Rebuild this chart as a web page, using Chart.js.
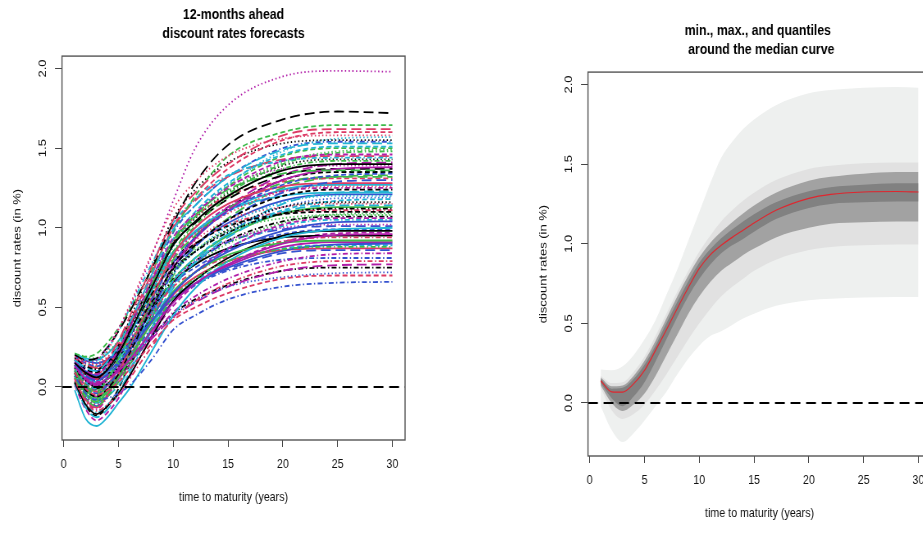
<!DOCTYPE html>
<html>
<head>
<meta charset="utf-8">
<script src="https://cdn.jsdelivr.net/npm/chart.js@4.4.1/dist/chart.umd.min.js"></script>
<style>
  html, body { margin: 0; padding: 0; background: #fff; overflow: hidden; }
  #wrap { position: relative; width: 923px; height: 535px; overflow: hidden; background: #fff; }
  /* the source picture is squeezed sideways, so draw wide and squeeze the canvas */
  #fcChart { position: absolute; left: 0; top: 0; width: 460px; height: 535px; }
  #bandChart { position: absolute; left: 526px; top: 16px; width: 460px; height: 535px; }
</style>
</head>
<body>
<div id="wrap">
  <canvas id="fcChart" width="561" height="535" style="width:460px;height:535px"></canvas>
  <canvas id="bandChart" width="561" height="535" style="width:460px;height:535px"></canvas>
</div>
<script>
/* axes */
const xRange = [-0.16, 31.16];
const yRange = [-0.333, 2.078];
const xTicks = [0, 5, 10, 15, 20, 25, 30];
const yTicks = [0, 0.5, 1, 1.5, 2];

/* left panel: forecast curves, one row per curve, read at these maturities */
const maturities = [1, 2, 3, 4, 5, 6, 8, 10, 12, 15, 20, 25, 30];
const forecasts = [
  [0.15, 0.09, 0.06, 0.11, 0.21, 0.34, 0.62, 0.89, 1.04, 1.20, 1.36, 1.40, 1.40],
  [0.09, -0.01, -0.05, -0.02, 0.03, 0.11, 0.27, 0.42, 0.50, 0.59, 0.68, 0.70, 0.70],
  [0.11, 0.02, -0.02, 0.05, 0.15, 0.27, 0.51, 0.73, 0.86, 0.98, 1.06, 1.08, 1.08],
  [0.07, -0.04, -0.08, -0.07, -0.04, 0.01, 0.17, 0.36, 0.45, 0.55, 0.63, 0.655, 0.66],
  [0.17, 0.12, 0.10, 0.16, 0.26, 0.40, 0.70, 0.99, 1.14, 1.32, 1.49, 1.53, 1.53],
  [0.13, 0.05, 0.02, 0.05, 0.10, 0.17, 0.35, 0.53, 0.65, 0.77, 0.90, 0.955, 0.96],
  [0.09, -0.02, -0.06, -0.01, 0.08, 0.21, 0.49, 0.75, 0.89, 1.05, 1.20, 1.24, 1.24],
  [0.19, 0.16, 0.14, 0.23, 0.36, 0.51, 0.83, 1.12, 1.29, 1.45, 1.56, 1.58, 1.58],
  [0.06, -0.07, -0.12, -0.06, 0.03, 0.14, 0.36, 0.56, 0.68, 0.79, 0.865, 0.88, 0.88],
  [0.14, 0.07, 0.04, 0.08, 0.14, 0.24, 0.48, 0.72, 0.88, 1.05, 1.22, 1.29, 1.30],
  [-0.02, -0.20, -0.245, -0.19, -0.10, -0.01, 0.22, 0.45, 0.62, 0.79, 0.94, 0.99, 1.00],
  [0.16, 0.10, 0.08, 0.14, 0.23, 0.37, 0.66, 0.94, 1.09, 1.25, 1.42, 1.46, 1.46],
  [0.12, 0.04, 0.00, 0.05, 0.13, 0.24, 0.49, 0.72, 0.85, 0.99, 1.13, 1.16, 1.16],
  [0.04, -0.09, -0.15, -0.11, -0.05, 0.05, 0.25, 0.43, 0.54, 0.65, 0.76, 0.79, 0.79],
  [0.10, 0.01, -0.03, 0.05, 0.18, 0.33, 0.64, 0.92, 1.08, 1.24, 1.34, 1.36, 1.36],
  [0.16, 0.10, 0.07, 0.10, 0.15, 0.23, 0.41, 0.59, 0.72, 0.85, 0.98, 1.035, 1.04],
  [0.12, 0.03, -0.01, 0.05, 0.16, 0.31, 0.63, 0.93, 1.10, 1.28, 1.46, 1.51, 1.51],
  [0.19, 0.155, 0.17, 0.25, 0.37, 0.50, 0.82, 1.17, 1.50, 1.77, 1.95, 1.985, 1.98],
  [0.18, 0.13, 0.11, 0.15, 0.22, 0.32, 0.53, 0.74, 0.85, 0.97, 1.09, 1.12, 1.12],
  [0.18, 0.14, 0.12, 0.18, 0.29, 0.44, 0.75, 1.05, 1.22, 1.40, 1.58, 1.62, 1.62],
  [0.07, -0.04, -0.09, -0.03, 0.06, 0.17, 0.40, 0.60, 0.72, 0.83, 0.905, 0.92, 0.92],
  [0.19, 0.15, 0.13, 0.17, 0.23, 0.32, 0.55, 0.78, 0.94, 1.10, 1.27, 1.33, 1.34],
  [0.08, -0.03, -0.08, -0.03, 0.06, 0.19, 0.46, 0.71, 0.85, 1.01, 1.16, 1.20, 1.20],
  [0.14, 0.06, 0.03, 0.05, 0.10, 0.16, 0.31, 0.47, 0.57, 0.68, 0.79, 0.835, 0.84],
  [0.20, 0.17, 0.18, 0.25, 0.35, 0.47, 0.74, 1.03, 1.28, 1.52, 1.68, 1.73, 1.72],
  [0.05, -0.08, -0.13, -0.05, 0.08, 0.24, 0.55, 0.83, 1.00, 1.15, 1.26, 1.28, 1.28],
  [0.21, 0.19, 0.21, 0.28, 0.37, 0.48, 0.73, 0.98, 1.20, 1.45, 1.60, 1.645, 1.645],
  [0.10, 0.00, -0.02, 0.02, 0.08, 0.16, 0.32, 0.45, 0.54, 0.63, 0.69, 0.715, 0.72],
  [0.20, 0.17, 0.16, 0.24, 0.35, 0.49, 0.77, 1.03, 1.18, 1.33, 1.42, 1.44, 1.44],
  [0.15, 0.08, 0.05, 0.07, 0.11, 0.17, 0.30, 0.44, 0.53, 0.63, 0.73, 0.765, 0.77],
  [0.03, -0.11, -0.17, -0.12, -0.04, 0.07, 0.31, 0.54, 0.67, 0.81, 0.95, 0.98, 0.98],
  [0.15, 0.08, 0.05, 0.11, 0.22, 0.38, 0.70, 1.01, 1.18, 1.37, 1.55, 1.60, 1.60],
  [0.21, 0.19, 0.18, 0.22, 0.29, 0.39, 0.64, 0.89, 1.06, 1.23, 1.41, 1.48, 1.49],
  [0.10, 0.00, -0.04, 0.01, 0.09, 0.18, 0.37, 0.54, 0.64, 0.73, 0.80, 0.81, 0.81],
  [0.02, -0.13, -0.19, -0.14, -0.04, 0.09, 0.37, 0.64, 0.78, 0.94, 1.10, 1.14, 1.14],
  [0.13, 0.04, 0.01, 0.05, 0.12, 0.23, 0.49, 0.75, 0.93, 1.11, 1.30, 1.37, 1.38],
  [0.17, 0.11, 0.09, 0.15, 0.24, 0.35, 0.58, 0.78, 0.90, 1.01, 1.085, 1.10, 1.10],
  [0.19, 0.16, 0.14, 0.19, 0.26, 0.38, 0.61, 0.83, 0.96, 1.09, 1.23, 1.26, 1.26],
  [0.07, -0.05, -0.10, -0.04, 0.07, 0.22, 0.54, 0.84, 1.01, 1.19, 1.37, 1.42, 1.42],
  [0.16, 0.10, 0.07, 0.10, 0.16, 0.24, 0.40, 0.56, 0.65, 0.74, 0.84, 0.86, 0.86],
  [0.14, 0.06, 0.03, 0.10, 0.21, 0.34, 0.60, 0.84, 0.98, 1.11, 1.20, 1.22, 1.22],
  [0.01, -0.14, -0.21, -0.16, -0.07, 0.06, 0.32, 0.58, 0.72, 0.87, 1.02, 1.06, 1.06],
  [0.13, 0.05, 0.02, 0.11, 0.25, 0.42, 0.75, 1.06, 1.24, 1.41, 1.53, 1.55, 1.55],
  [0.18, 0.14, 0.12, 0.15, 0.21, 0.29, 0.46, 0.63, 0.72, 0.82, 0.915, 0.94, 0.94],
  [0.09, -0.01, -0.05, 0.01, 0.10, 0.24, 0.53, 0.80, 0.95, 1.12, 1.28, 1.32, 1.32],
  [0.20, 0.165, 0.15, 0.17, 0.21, 0.27, 0.41, 0.56, 0.65, 0.75, 0.855, 0.895, 0.90],
  [0.15, 0.09, 0.06, 0.09, 0.15, 0.24, 0.45, 0.67, 0.81, 0.96, 1.11, 1.17, 1.18],
  [0.06, -0.06, -0.11, -0.04, 0.06, 0.18, 0.43, 0.66, 0.79, 0.92, 1.00, 1.02, 1.02],
  [0.11, 0.03, -0.01, 0.02, 0.07, 0.15, 0.31, 0.46, 0.55, 0.64, 0.73, 0.75, 0.75],
  [0.14, 0.06, 0.03, 0.12, 0.24, 0.40, 0.71, 1.00, 1.17, 1.32, 1.43, 1.45, 1.45],
  [0.08, -0.02, -0.07, -0.02, 0.06, 0.18, 0.43, 0.67, 0.81, 0.95, 1.09, 1.13, 1.13],
  [0.17, 0.12, 0.10, 0.14, 0.20, 0.29, 0.47, 0.65, 0.75, 0.86, 0.96, 0.99, 0.99],
  [0.16, 0.10, 0.07, 0.12, 0.19, 0.31, 0.60, 0.88, 1.08, 1.27, 1.48, 1.56, 1.57],
  [0.05, -0.08, -0.14, -0.06, 0.07, 0.22, 0.53, 0.81, 0.97, 1.13, 1.23, 1.25, 1.25],
  [0.18, 0.14, 0.12, 0.17, 0.26, 0.38, 0.65, 0.90, 1.03, 1.18, 1.33, 1.37, 1.37],
  [0.10, 0.01, -0.03, 0.02, 0.11, 0.20, 0.40, 0.58, 0.69, 0.79, 0.86, 0.87, 0.87],
  [0.08, -0.03, -0.08, -0.02, 0.09, 0.25, 0.58, 0.90, 1.07, 1.26, 1.45, 1.50, 1.50],
  [0.20, 0.165, 0.15, 0.18, 0.23, 0.32, 0.51, 0.71, 0.85, 0.98, 1.13, 1.185, 1.19],
  [0.035, -0.10, -0.16, -0.11, -0.03, 0.09, 0.35, 0.59, 0.72, 0.87, 1.01, 1.05, 1.05],
  [0.12, 0.04, 0.00, 0.04, 0.11, 0.23, 0.49, 0.76, 0.94, 1.13, 1.33, 1.40, 1.41],
  [0.15, 0.08, 0.05, 0.10, 0.19, 0.28, 0.48, 0.66, 0.77, 0.87, 0.94, 0.95, 0.95],
  [0.17, 0.11, 0.09, 0.16, 0.27, 0.41, 0.68, 0.92, 1.07, 1.20, 1.29, 1.31, 1.31],
  [0.19, 0.15, 0.13, 0.16, 0.21, 0.28, 0.47, 0.65, 0.77, 0.90, 1.03, 1.085, 1.09],
  [0.14, 0.07, 0.04, 0.10, 0.21, 0.36, 0.67, 0.97, 1.14, 1.32, 1.50, 1.54, 1.54],
  [0.07, -0.05, -0.10, -0.06, 0.01, 0.11, 0.37, 0.62, 0.79, 0.96, 1.15, 1.22, 1.23],
  [0.09, -0.02, -0.06, -0.02, 0.05, 0.14, 0.35, 0.54, 0.65, 0.76, 0.88, 0.91, 0.91],
  [0.025, -0.12, -0.18, -0.12, -0.01, 0.14, 0.46, 0.77, 0.94, 1.12, 1.30, 1.35, 1.35],
  [0.13, 0.05, 0.02, 0.09, 0.19, 0.31, 0.56, 0.79, 0.92, 1.05, 1.13, 1.15, 1.15],
  [0.18, 0.13, 0.11, 0.15, 0.22, 0.33, 0.59, 0.85, 1.03, 1.21, 1.40, 1.47, 1.48],
  [0.06, -0.07, -0.12, -0.05, 0.05, 0.17, 0.42, 0.65, 0.78, 0.91, 0.99, 1.01, 1.01],
  [0.21, 0.18, 0.17, 0.21, 0.29, 0.40, 0.63, 0.85, 0.97, 1.11, 1.24, 1.27, 1.27],
  [0.11, 0.02, -0.02, 0.01, 0.06, 0.14, 0.33, 0.51, 0.64, 0.77, 0.91, 0.965, 0.97],
  [0.15, 0.09, 0.06, 0.12, 0.21, 0.35, 0.64, 0.91, 1.06, 1.22, 1.39, 1.43, 1.43],
  [0.16, 0.10, 0.08, 0.14, 0.24, 0.35, 0.57, 0.78, 0.90, 1.02, 1.095, 1.11, 1.11],
  [0.10, 0.00, -0.04, 0.00, 0.07, 0.18, 0.44, 0.70, 0.88, 1.06, 1.25, 1.32, 1.33],
  [0.125, 0.045, 0.01, 0.06, 0.14, 0.26, 0.51, 0.75, 0.89, 1.03, 1.17, 1.21, 1.21],
  [0.17, 0.11, 0.09, 0.12, 0.18, 0.26, 0.43, 0.59, 0.67, 0.77, 0.87, 0.89, 0.89],
  [0.06, -0.06, -0.11, -0.02, 0.12, 0.28, 0.61, 0.91, 1.09, 1.26, 1.37, 1.39, 1.39],
  [0.14, 0.07, 0.04, 0.08, 0.15, 0.26, 0.47, 0.68, 0.79, 0.92, 1.04, 1.07, 1.07]
];

/* right panel: envelope, quantile bands and median */
const bandMaturities = [1, 2, 3, 4, 5, 6, 7, 8, 9, 10, 11, 12, 13, 14, 15, 17, 20, 22, 25, 28, 30];
const qMin  = [-0.02, -0.17, -0.245, -0.19, -0.11, -0.02, 0.07, 0.18, 0.28, 0.36, 0.42, 0.45, 0.49, 0.53, 0.56, 0.61, 0.645, 0.655, 0.662, 0.665, 0.665];
const qMax  = [0.21, 0.205, 0.23, 0.30, 0.40, 0.52, 0.68, 0.84, 1.02, 1.20, 1.38, 1.54, 1.64, 1.72, 1.78, 1.87, 1.945, 1.965, 1.98, 1.985, 1.98];
const q2Lo  = [0.095, -0.045, -0.10, -0.07, -0.01, 0.08, 0.18, 0.29, 0.40, 0.50, 0.59, 0.67, 0.73, 0.78, 0.83, 0.90, 0.96, 0.98, 0.99, 0.995, 0.995];
const q2Hi  = [0.17, 0.125, 0.13, 0.195, 0.29, 0.42, 0.56, 0.70, 0.83, 0.95, 1.05, 1.14, 1.21, 1.27, 1.32, 1.40, 1.47, 1.49, 1.505, 1.51, 1.51];
const q3Lo  = [0.11, 0.00, -0.05, -0.01, 0.06, 0.17, 0.30, 0.43, 0.56, 0.67, 0.76, 0.83, 0.88, 0.93, 0.97, 1.04, 1.10, 1.125, 1.135, 1.14, 1.14];
const q3Hi  = [0.16, 0.105, 0.11, 0.17, 0.265, 0.39, 0.53, 0.67, 0.80, 0.915, 1.005, 1.075, 1.135, 1.19, 1.24, 1.32, 1.395, 1.42, 1.44, 1.45, 1.45];
const q4Lo  = [0.125, 0.03, -0.02, 0.04, 0.13, 0.26, 0.40, 0.54, 0.67, 0.78, 0.87, 0.94, 0.99, 1.03, 1.075, 1.155, 1.225, 1.25, 1.26, 1.265, 1.265];
const q4Hi  = [0.15, 0.09, 0.095, 0.15, 0.24, 0.36, 0.50, 0.635, 0.765, 0.88, 0.965, 1.035, 1.09, 1.14, 1.185, 1.26, 1.33, 1.355, 1.37, 1.38, 1.38];
const qMedian = [0.14, 0.07, 0.068, 0.12, 0.205, 0.33, 0.46, 0.595, 0.725, 0.845, 0.93, 0.99, 1.04, 1.085, 1.13, 1.21, 1.285, 1.31, 1.325, 1.328, 1.325];

/* styles, cycled like matplot does (col = 1:6, lty = 1:5) */
const palette = ['#000000', '#DC3A64', '#3DBA4A', '#3552CF', '#22B4D4', '#B01CA8'];
const dashes  = [[], [6, 3.5], [1.5, 3], [1.5, 3, 6, 3], [12, 6]];

const sans = "'Liberation Sans', Arial, sans-serif";

const pts = (xs, ys) => xs.map((x, k) => ({ x: x, y: ys[k] }));

// box round the plot region, as R does
const frameBox = {
  id: 'frameBox',
  afterDatasetsDraw(chart) {
    const { ctx, chartArea: a } = chart;
    ctx.save();
    ctx.strokeStyle = '#555';
    ctx.lineWidth = 1.4;
    ctx.strokeRect(a.left, a.top, a.right - a.left, a.bottom - a.top);
    ctx.restore();
  }
};

function baseOptions(titleLines) {
  return {
    responsive: false,
    animation: false,
    devicePixelRatio: 1,
    events: [],
    layout: { padding: { left: 0, right: 67, top: 0, bottom: 0 } },
    plugins: {
      legend: { display: false },
      tooltip: { enabled: false },
      title: {
        display: true,
        fullSize: false,
        text: titleLines,
        color: '#000',
        font: { family: sans, size: 15, weight: 'bold', lineHeight: 1.27 },
        padding: { top: 5, bottom: 13 }
      }
    },
    scales: {
      x: {
        type: 'linear', bounds: 'data',
        min: xRange[0], max: xRange[1],
        afterBuildTicks: s => { s.ticks = xTicks.map(v => ({ value: v })); },
        afterFit: s => { s.height = 95; },
        border: { display: false },
        grid: { drawOnChartArea: false, drawTicks: true, tickLength: 7, color: '#444' },
        ticks: { autoSkip: false, maxRotation: 0, padding: 10, color: '#111',
                 font: { family: sans, size: 13 } },
        title: { display: true, text: 'time to maturity (years)', color: '#111',
                 font: { family: sans, size: 13 }, padding: { top: 0, bottom: 30 } }
      },
      y: {
        type: 'linear', bounds: 'data',
        min: yRange[0], max: yRange[1],
        afterBuildTicks: s => { s.ticks = yTicks.map(v => ({ value: v })); },
        afterFit: s => { s.width = 75.6; },
        border: { display: false },
        grid: { drawOnChartArea: false, drawTicks: true, tickLength: 8.5, color: '#444' },
        ticks: { autoSkip: false, minRotation: 90, maxRotation: 90, crossAlign: 'center',
                 padding: 6, color: '#111', font: { family: sans, size: 13 },
                 callback: v => Number(v).toFixed(1) },
        title: { display: true, text: 'discount rates (in %)', color: '#111',
                 font: { family: sans, size: 13 }, padding: { top: 14, bottom: 0 } }
      }
    }
  };
}

/* left: all forecast curves */
const fcSets = [{
  data: pts(xRange, [0, 0]),
  borderColor: '#000', borderWidth: 2, borderDash: [12, 7],
  pointRadius: 0, fill: false, order: 0
}];
forecasts.forEach((row, i) => {
  fcSets.push({
    data: pts(maturities, row),
    borderColor: palette[i % 6],
    borderDash: dashes[i % 5],
    borderWidth: 1.8,
    pointRadius: 0,
    fill: false,
    cubicInterpolationMode: 'monotone',
    order: 1
  });
});

new Chart(document.getElementById('fcChart'), {
  type: 'line',
  data: { datasets: fcSets },
  options: baseOptions(['12-months ahead', 'discount rates forecasts']),
  plugins: [frameBox]
});

/* right: bands around the median */
function band(ys, fillTo, color, order) {
  return {
    data: pts(bandMaturities, ys),
    borderColor: 'rgba(0,0,0,0)', borderWidth: 0, pointRadius: 0,
    backgroundColor: color, fill: fillTo, order: order,
    cubicInterpolationMode: 'monotone'
  };
}

const bandSets = [
  { data: pts(xRange, [0, 0]), borderColor: '#000', borderWidth: 2, borderDash: [12, 7],
    pointRadius: 0, fill: false, order: 0 },
  { data: pts(bandMaturities, qMedian), borderColor: '#E0262E', borderWidth: 1.2,
    pointRadius: 0, fill: false, order: 0, cubicInterpolationMode: 'monotone' },
  band(q4Hi, 3, '#818181', 1),            // 2
  band(q4Lo, false, 'rgba(0,0,0,0)', 1),  // 3
  band(q3Hi, 5, '#A2A2A2', 2),            // 4
  band(q3Lo, false, 'rgba(0,0,0,0)', 2),  // 5
  band(q2Hi, 7, '#E1E1E1', 3),            // 6
  band(q2Lo, false, 'rgba(0,0,0,0)', 3),  // 7
  band(qMax, 9, '#EEF0EF', 4),            // 8
  band(qMin, false, 'rgba(0,0,0,0)', 4)   // 9
];

new Chart(document.getElementById('bandChart'), {
  type: 'line',
  data: { datasets: bandSets },
  options: baseOptions(['min., max., and quantiles ', ' around the median curve']),
  plugins: [frameBox]
});
</script>
</body>
</html>
